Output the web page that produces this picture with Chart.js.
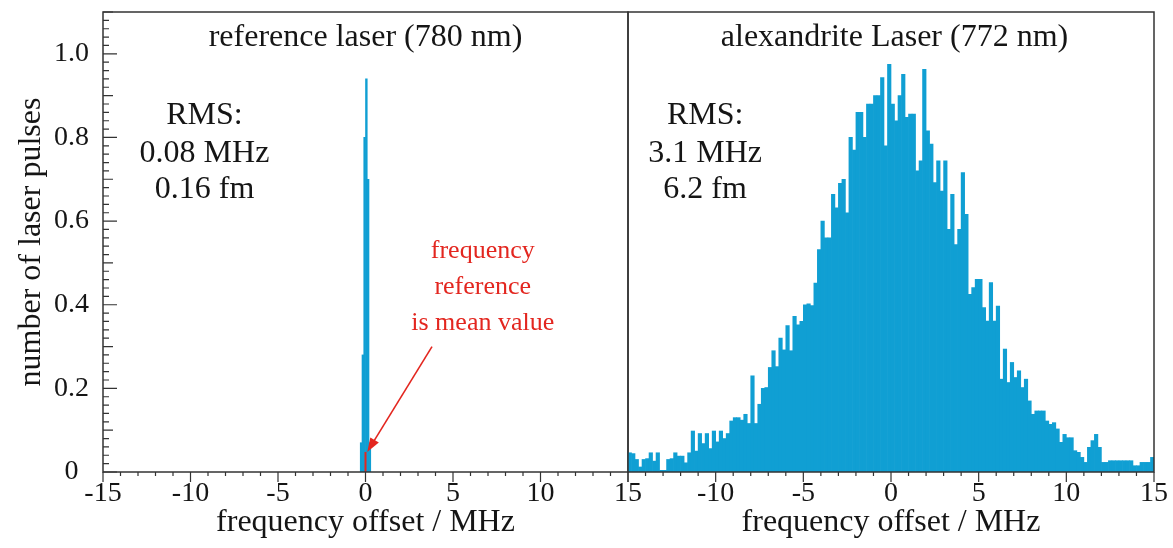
<!DOCTYPE html>
<html>
<head>
<meta charset="utf-8">
<script src="https://cdn.jsdelivr.net/npm/chart.js@4.4.1/dist/chart.umd.min.js"></script>
<style>
  html, body { margin: 0; padding: 0; background: #fff; }
  #wrap { position: relative; width: 1173px; height: 548px; }
  #wrap canvas { position: absolute; left: 0; top: 0; }
</style>
</head>
<body>
<div id="wrap">
  <canvas id="refChart" width="1173" height="548"></canvas>
  <canvas id="alexChart" width="1173" height="548"></canvas>
</div>
<script>
// reference laser: frequency offset (MHz) and normalised pulse count
const refOffsets = [-0.25, -0.15, -0.05, 0.05, 0.15, 0.25];
const refCounts = [0.07, 0.28, 0.80, 0.94, 0.70, 0.07];

// alexandrite laser histogram, 0.2 MHz bins from -15 to 15 MHz
const alexCounts = [
  0.046, 0.044, 0.030, 0.012, 0.030, 0.032, 0.046, 0.026, 0.046, 0.004,
  0.004, 0.030, 0.032, 0.046, 0.038, 0.038, 0.022, 0.046, 0.098, 0.050,
  0.092, 0.068, 0.092, 0.056, 0.098, 0.072, 0.098, 0.080, 0.092, 0.122,
  0.130, 0.130, 0.124, 0.138, 0.116, 0.230, 0.116, 0.162, 0.200, 0.202,
  0.250, 0.290, 0.252, 0.320, 0.292, 0.350, 0.290, 0.372, 0.352, 0.360,
  0.400, 0.402, 0.398, 0.452, 0.532, 0.600, 0.560, 0.560, 0.664, 0.632,
  0.690, 0.700, 0.620, 0.800, 0.770, 0.860, 0.860, 0.800, 0.880, 0.880,
  0.900, 0.900, 0.943, 0.780, 0.975, 0.880, 0.840, 0.900, 0.951, 0.848,
  0.856, 0.856, 0.720, 0.744, 0.963, 0.816, 0.784, 0.692, 0.744, 0.672,
  0.744, 0.580, 0.664, 0.544, 0.580, 0.716, 0.616, 0.425, 0.441, 0.461,
  0.461, 0.393, 0.361, 0.453, 0.361, 0.397, 0.222, 0.294, 0.214, 0.262,
  0.226, 0.242, 0.202, 0.222, 0.170, 0.138, 0.146, 0.146, 0.146, 0.122,
  0.114, 0.118, 0.103, 0.071, 0.090, 0.082, 0.082, 0.051, 0.047, 0.035,
  0.023, 0.059, 0.075, 0.090, 0.059, 0.023, 0.023, 0.027, 0.027, 0.027,
  0.027, 0.027, 0.027, 0.027, 0.015, 0.015, 0.023, 0.023, 0.023, 0.035
];
const alexBinStart = -15;
const alexBinWidth = 0.2;
const alexOffsets = alexCounts.map((_, i) => alexBinStart + alexBinWidth * (i + 0.5));

// axis ticks
const xTicks = [-15, -10, -5, 0, 5, 10, 15];
const yTicks = [0, 0.2, 0.4, 0.6, 0.8, 1.0];
const yTickLabels = ['0', '0.2', '0.4', '0.6', '0.8', '1.0'];

// texts
const refTitle = 'reference laser (780 nm)';
const alexTitle = 'alexandrite Laser (772 nm)';
const refRms = ['RMS:', '0.08 MHz', '0.16 fm'];
const alexRms = ['RMS:', '3.1 MHz', '6.2 fm'];
const meanNote = ['frequency', 'reference', 'is mean value'];
const meanMarker = 0.048;   // height of the red mark at 0 MHz

const BLUE = '#109fd3';
const RED = '#e3261f';
const INK = '#151515';
const FRAME = '#333';
const SERIF = "'Liberation Serif', 'Times New Roman', serif";

Chart.defaults.font.family = SERIF;
Chart.defaults.color = INK;

// box around the plot area plus the tick marks (inward on y, outward on x)
const framePlugin = {
  id: 'frame',
  afterDraw(chart, args, opts) {
    const { ctx, chartArea: a, scales } = chart;
    ctx.save();
    ctx.strokeStyle = FRAME;
    ctx.lineWidth = 1.5;
    ctx.strokeRect(a.left, a.top, a.right - a.left, a.bottom - a.top);
    ctx.lineWidth = 1.2;
    ctx.beginPath();
    const xs = scales.x;
    for (let v = -15; v <= 15; v++) {
      const px = xs.getPixelForValue(v);
      const len = v % 5 === 0 ? 10 : 4;
      ctx.moveTo(px, a.bottom);
      ctx.lineTo(px, a.bottom + len);
    }
    if (opts.yTicks) {
      const ys = scales.y;
      for (let k = 0; k <= 55; k++) {
        const py = ys.getPixelForValue(k * 0.02);
        const len = k % 10 === 0 ? 14 : (k % 5 === 0 ? 10 : 6);
        ctx.moveTo(a.left, py);
        ctx.lineTo(a.left + len, py);
      }
    }
    ctx.stroke();
    ctx.restore();
  }
};

// panel titles, RMS notes and the red arrow
const notesPlugin = {
  id: 'notes',
  afterDatasetsDraw(chart, args, opts) {
    const { ctx, scales: { x, y } } = chart;
    ctx.save();
    ctx.textAlign = 'center';
    ctx.textBaseline = 'alphabetic';
    (opts.items || []).forEach(t => {
      ctx.font = t.size + 'px ' + SERIF;
      ctx.fillStyle = t.color || INK;
      ctx.fillText(t.text, x.getPixelForValue(t.x), y.getPixelForValue(t.y));
    });
    if (opts.arrow) {
      const x0 = x.getPixelForValue(opts.arrow.from[0]);
      const y0 = y.getPixelForValue(opts.arrow.from[1]);
      const x1 = x.getPixelForValue(opts.arrow.to[0]);
      const y1 = y.getPixelForValue(opts.arrow.to[1]);
      const ang = Math.atan2(y1 - y0, x1 - x0);
      const head = 14, half = 5;
      ctx.strokeStyle = RED;
      ctx.fillStyle = RED;
      ctx.lineWidth = 1.6;
      ctx.beginPath();
      ctx.moveTo(x0, y0);
      ctx.lineTo(x1 - Math.cos(ang) * head * 0.8, y1 - Math.sin(ang) * head * 0.8);
      ctx.stroke();
      ctx.beginPath();
      ctx.moveTo(x1, y1);
      ctx.lineTo(x1 - Math.cos(ang) * head - Math.sin(ang) * half, y1 - Math.sin(ang) * head + Math.cos(ang) * half);
      ctx.lineTo(x1 - Math.cos(ang) * head + Math.sin(ang) * half, y1 - Math.sin(ang) * head - Math.cos(ang) * half);
      ctx.closePath();
      ctx.fill();
    }
    ctx.restore();
  }
};

function textRows(lines, xv, yvs, size, color) {
  return lines.map((s, i) => ({ text: s, x: xv, y: yvs[i], size, color }));
}

function xScale(hideFirst) {
  return {
    type: 'linear',
    min: -15,
    max: 15,
    offset: false,
    grid: { display: false, drawTicks: false, offset: false },
    border: { display: false },
    ticks: {
      stepSize: 1,
      autoSkip: false,
      maxRotation: 0,
      padding: 5,
      font: { size: 28 },
      color: INK,
      callback: v => (xTicks.includes(v) && !(hideFirst && v === -15)) ? String(v) : ''
    },
    title: {
      display: true,
      text: 'frequency offset / MHz',
      font: { size: 32 },
      color: INK,
      padding: { top: 0, bottom: 6 }
    },
    afterFit: s => {
      s.height = 76;
      s.paddingLeft = 0;
      s.paddingRight = 0;
    }
  };
}

function yScale(show) {
  return {
    type: 'linear',
    min: 0,
    max: 1.1,
    display: show,
    grid: { display: false, drawTicks: false },
    border: { display: false },
    ticks: {
      stepSize: 0.2,
      crossAlign: 'center',
      padding: 14,
      font: { size: 28 },
      color: INK,
      callback: v => {
        const k = yTicks.findIndex(t => Math.abs(t - v) < 1e-6);
        return k >= 0 ? yTickLabels[k] : '';
      }
    },
    title: {
      display: true,
      text: 'number of laser pulses',
      font: { size: 32 },
      color: INK,
      padding: { top: 12, bottom: 0 }
    },
    afterFit: s => {
      s.width = show ? 103 : 0;
      s.paddingTop = 0;
      s.paddingBottom = 0;
    }
  };
}

const rmsRows = [0.831, 0.742, 0.656];

new Chart(document.getElementById('refChart'), {
  type: 'bar',
  data: {
    datasets: [
      {
        type: 'line',
        data: [{ x: 0, y: 0 }, { x: 0, y: meanMarker }],
        borderColor: RED,
        borderWidth: 2,
        pointRadius: 0,
        order: 1
      },
      {
        data: refOffsets.map((x, i) => ({ x, y: refCounts[i] })),
        backgroundColor: BLUE,
        borderWidth: 0,
        barPercentage: 1,
        categoryPercentage: 1,
        order: 2
      }
    ]
  },
  options: {
    responsive: false,
    animation: false,
    layout: { padding: { left: 0, right: 545, top: 12, bottom: 0 } },
    scales: { x: xScale(false), y: yScale(true) },
    plugins: {
      legend: { display: false },
      tooltip: { enabled: false },
      frame: { yTicks: true },
      notes: {
        items: [
          { text: refTitle, x: 0, y: 1.019, size: 32 },
          ...textRows(refRms, -9.2, rmsRows, 32),
          ...textRows(meanNote, 6.7, [0.512, 0.426, 0.340], 26, RED)
        ],
        arrow: { from: [3.8, 0.30], to: [0.1, meanMarker] }
      }
    }
  },
  plugins: [framePlugin, notesPlugin]
});

new Chart(document.getElementById('alexChart'), {
  type: 'bar',
  data: {
    datasets: [{
      data: alexOffsets.map((x, i) => ({ x, y: alexCounts[i] })),
      backgroundColor: BLUE,
      borderWidth: 0,
      barPercentage: 1,
      categoryPercentage: 1
    }]
  },
  options: {
    responsive: false,
    animation: false,
    layout: { padding: { left: 628, right: 19, top: 12, bottom: 0 } },
    scales: { x: xScale(true), y: yScale(false) },
    plugins: {
      legend: { display: false },
      tooltip: { enabled: false },
      frame: { yTicks: false },
      notes: {
        items: [
          { text: alexTitle, x: 0.2, y: 1.019, size: 32 },
          ...textRows(alexRms, -10.6, rmsRows, 32)
        ]
      }
    }
  },
  plugins: [framePlugin, notesPlugin]
});
</script>
</body>
</html>
